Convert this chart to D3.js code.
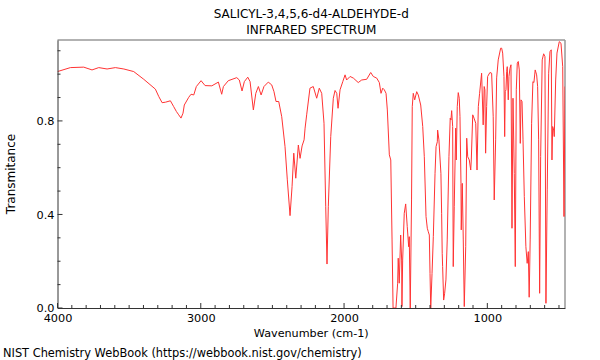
<!DOCTYPE html>
<html><head><meta charset="utf-8">
<script src="https://cdn.jsdelivr.net/npm/d3@7"></script>
<style>body{margin:0;background:#fff}svg{display:block}text{font-family:"DejaVu Sans",sans-serif;fill:#000}</style>
</head><body><svg id="c" width="600" height="360"></svg>
<script>
const titleLines = ["SALICYL-3,4,5,6-d4-ALDEHYDE-d", "INFRARED SPECTRUM"];
const xLabel = "Wavenumber (cm-1)";
const yLabel = "Transmitance";
const footer = "NIST Chemistry WebBook (https://webbook.nist.gov/chemistry)";
const xDomain = [4000, 458];
const yDomain = [0, 1.146];
const xTickLabels = [4000, 3000, 2000, 1000];
const yTickLabels = [0.0, 0.4, 0.8];
const wavenumber = [4000,3910,3817,3759,3712,3654,3596,3537,3468,3398,3317,3293,3270,3247,3212,3189,3170,3154,3138,3124,3115,3084,3068,3049,3031,2998,2970,2923,2877,2854,2842,2808,2749,2731,2712,2696,2672,2656,2633,2616,2598,2579,2559,2529,2505,2489,2475,2456,2435,2412,2396,2377,2363,2351,2337,2319,2307,2293,2279,2272,2261,2238,2215,2191,2173,2156,2140,2128,2119,2110,2093,2075,2063,2051,2042,2028,2009,1993,1982,1958,1935,1901,1877,1842,1814,1796,1772,1754,1742,1730,1719,1707,1698,1684,1674,1665,1658,1638,1626,1622,1615,1605,1598,1596,1591,1580,1570,1559,1549,1545,1538,1529,1524,1517,1507,1493,1482,1465,1451,1440,1428,1419,1412,1405,1400,1395,1386,1377,1365,1358,1349,1347,1338,1324,1319,1315,1312,1305,1298,1289,1280,1268,1259,1254,1249,1242,1238,1231,1221,1217,1210,1203,1196,1191,1184,1182,1175,1168,1161,1151,1144,1137,1126,1116,1112,1102,1093,1081,1072,1063,1054,1040,1029,1022,1017,1012,1005,998,982,970,959,952,942,935,924,907,900,893,884,879,875,870,865,861,854,849,842,835,828,821,812,805,798,791,784,777,770,765,758,751,742,731,722,714,708,701,691,682,675,666,656,649,642,635,628,617,607,598,591,582,572,563,554,549,544,537,533,523,514,498,486,474,465,458];
const transmittance = [1.011,1.028,1.030,1.018,1.028,1.022,1.028,1.022,1.011,0.978,0.936,0.904,0.878,0.880,0.886,0.861,0.840,0.826,0.812,0.833,0.868,0.901,0.914,0.911,0.947,0.972,0.951,0.950,0.966,0.914,0.947,0.972,0.985,0.975,0.928,0.968,0.987,0.968,0.847,0.918,0.947,0.911,0.947,0.966,0.954,0.925,0.883,0.883,0.818,0.690,0.548,0.395,0.519,0.662,0.555,0.697,0.640,0.693,0.719,0.769,0.826,0.940,0.947,0.897,0.940,0.918,0.790,0.433,0.188,0.433,0.733,0.897,0.930,0.918,0.854,0.933,0.968,0.997,0.975,0.990,0.983,0.964,0.975,0.978,1.007,0.990,0.983,0.964,0.918,0.940,0.933,0.918,0.847,0.655,0.633,0.291,0.000,0.000,0.106,0.213,0.106,0.312,0.205,0.006,0.205,0.405,0.445,0.348,0.262,0.305,0.000,0.462,0.861,0.918,0.890,0.925,0.911,0.868,0.776,0.647,0.391,0.341,0.326,0.312,0.148,0.000,0.148,0.305,0.576,0.690,0.711,0.761,0.719,0.576,0.405,0.234,0.177,0.034,0.063,0.120,0.291,0.647,0.812,0.804,0.844,0.776,0.177,0.433,0.769,0.633,0.861,0.921,0.897,0.818,0.533,0.334,0.533,0.291,0.006,0.262,0.726,0.647,0.633,0.590,0.633,0.826,0.812,0.790,0.590,0.861,0.918,1.004,0.783,0.947,0.933,0.662,0.861,0.990,1.007,1.004,0.818,0.462,0.719,0.984,1.061,1.111,1.111,1.090,0.990,0.733,0.925,0.933,1.011,1.032,0.890,0.990,1.025,1.040,0.341,0.897,0.576,0.177,0.933,1.047,1.054,1.018,0.704,0.890,0.883,0.719,0.476,0.262,0.191,0.241,0.046,0.291,0.790,0.968,0.964,1.018,0.997,0.947,0.719,0.063,0.647,1.061,1.087,1.075,0.020,0.505,1.004,1.096,1.104,0.633,0.776,0.761,0.733,0.975,1.090,1.139,1.132,1.032,0.391,0.947];

const svg = d3.select("#c");
const L = 57.5, R = 565, T = 40, B = 308;
const x = d3.scaleLinear().domain(xDomain).range([L, R]);
const y = d3.scaleLinear().domain(yDomain).range([B, T]);

svg.append("clipPath").attr("id","clip").append("rect").attr("x",L).attr("y",T).attr("width",R-L).attr("height",B-T);

// frame top/right
svg.append("line").attr("x1",L).attr("x2",R).attr("y1",T).attr("y2",T).attr("stroke","#999").attr("stroke-width",1.5);
svg.append("line").attr("x1",R).attr("x2",R).attr("y1",T).attr("y2",B).attr("stroke","#999").attr("stroke-width",1.5);

const data = wavenumber.map((w,i)=>[w, transmittance[i]]);
svg.append("path").datum(data).attr("clip-path","url(#clip)")
  .attr("fill","none").attr("stroke","#ff3333").attr("stroke-width",1).attr("stroke-linejoin","round")
  .attr("d", d3.line().x(d=>x(d[0])).y(d=>y(d[1])));

// x axis
const xMinor = d3.range(4000, 458, -100);
const gx = svg.append("g").attr("transform",`translate(0,${B})`);
gx.call(d3.axisBottom(x).tickValues(xTickLabels).tickSize(0).tickPadding(6).tickFormat(d3.format("d")));
gx.select(".domain").attr("stroke","#333");
gx.selectAll("text").attr("font-size","11.3px").attr("font-family","DejaVu Sans, sans-serif");
gx.selectAll(".minor").data(xMinor).enter().append("line")
  .attr("x1",d=>x(d)).attr("x2",d=>x(d)).attr("y1",0).attr("y2",d=>d%1000===0?-5:-3).attr("stroke","#333");

// y axis
const yMinor = d3.range(0, 1.15, 0.1).map(v=>+v.toFixed(1));
const gy = svg.append("g").attr("transform",`translate(${L},0)`);
gy.call(d3.axisLeft(y).tickValues(yTickLabels).tickSize(0).tickPadding(3).tickFormat(d3.format(".1f")));
gy.select(".domain").attr("stroke","#333");
gy.selectAll("text").attr("font-size","11.3px").attr("font-family","DejaVu Sans, sans-serif");
gy.selectAll(".minor").data(yMinor).enter().append("line")
  .attr("y1",d=>y(d)).attr("y2",d=>y(d)).attr("x1",0).attr("x2",d=>(Math.abs(d*10%4)<1e-6)?5:3).attr("stroke","#333");

// titles
svg.selectAll(".title").data(titleLines).enter().append("text")
  .attr("x",(L+R)/2).attr("y",(d,i)=>18+i*16).attr("text-anchor","middle").attr("font-size","12px").text(d=>d);
svg.append("text").attr("x",(L+R)/2).attr("y",336.5).attr("text-anchor","middle").attr("font-size","11.2px").text(xLabel);
svg.append("text").attr("transform",`translate(15,${(T+B)/2}) rotate(-90)`).attr("text-anchor","middle").attr("font-size","12px").text(yLabel);
svg.append("text").attr("x",3).attr("y",356.5).attr("font-size","11.4px").text(footer);
</script></body></html>
